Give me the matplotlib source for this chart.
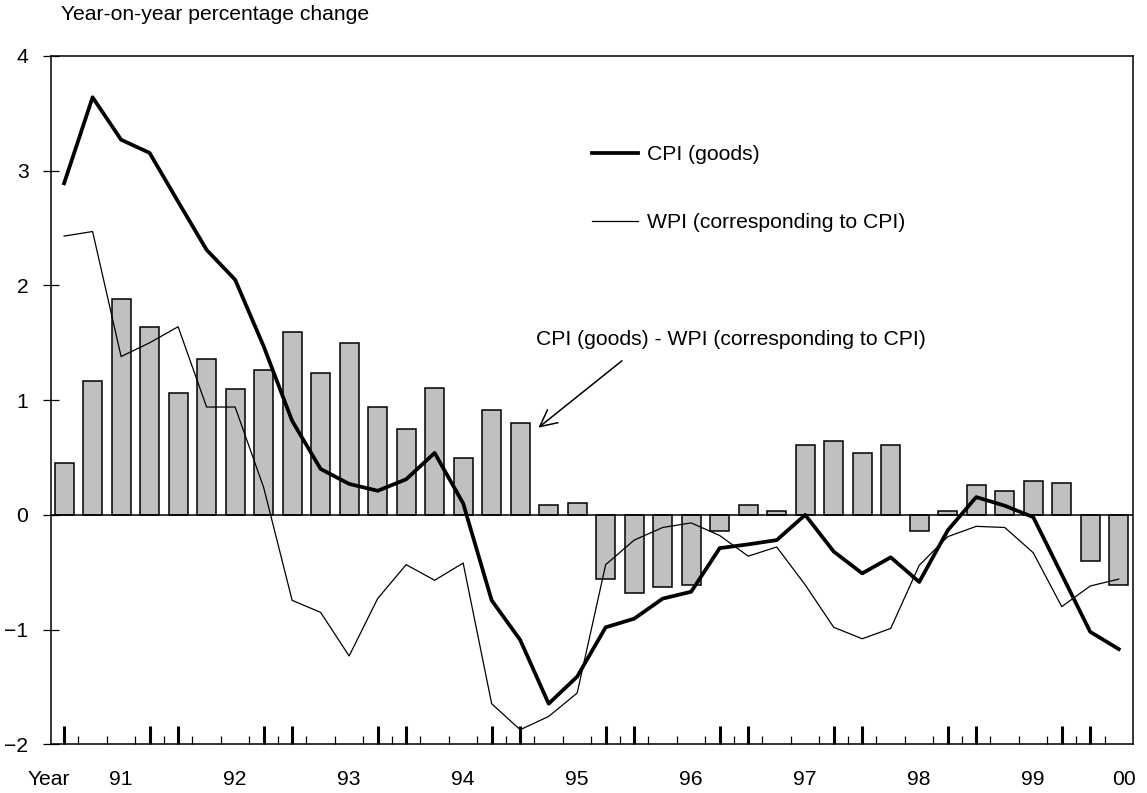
import numpy as np
import matplotlib.pyplot as plt

plt.rcParams['font.family'] = ['Liberation Sans', 'DejaVu Sans']

# quarterly series, 38 points
quarters = np.arange(38)

cpi_goods = [2.89, 3.64, 3.27, 3.155, 2.73, 2.31, 2.05, 1.47, 0.82, 0.40,
             0.27, 0.21, 0.31, 0.54, 0.10, -0.745, -1.09, -1.646, -1.41, -0.98,
             -0.905, -0.73, -0.67, -0.29, -0.257, -0.22, 0.0, -0.32, -0.51, -0.37,
             -0.585, -0.135, 0.155, 0.08, -0.02, -0.52, -1.02, -1.17]

wpi_cpi = [2.43, 2.47, 1.38, 1.50, 1.64, 0.94, 0.94, 0.24, -0.745, -0.85,
           -1.23, -0.73, -0.434, -0.57, -0.42, -1.646, -1.873, -1.757, -1.553, -0.434,
           -0.22, -0.11, -0.07, -0.18, -0.36, -0.28, -0.61, -0.98, -1.08, -0.99,
           -0.44, -0.19, -0.10, -0.11, -0.33, -0.80, -0.62, -0.56]

cpi_minus_wpi = [0.455, 1.17, 1.885, 1.64, 1.065, 1.36, 1.10, 1.26, 1.59, 1.24,
                 1.50, 0.94, 0.75, 1.11, 0.495, 0.91, 0.80, 0.09, 0.105, -0.56,
                 -0.68, -0.63, -0.61, -0.14, 0.085, 0.035, 0.61, 0.645, 0.54, 0.61,
                 -0.14, 0.035, 0.26, 0.21, 0.295, 0.28, -0.40, -0.61]

year_labels = ['91', '92', '93', '94', '95', '96', '97', '98', '99', '00']
year_pos = [2, 6, 10, 14, 18, 22, 26, 30, 34, 37.2]
thick_ticks = [0, 3, 4, 7, 8, 11, 12, 15, 16, 19, 20, 23, 24, 27, 28, 31, 32, 35, 36]

fs = 15.2

fig = plt.figure(figsize=(11.47, 7.93), dpi=100)
ax = fig.add_axes([0.0442, 0.0614, 0.9436, 0.868])

ax.bar(quarters, cpi_minus_wpi, width=0.67, color='#c0c0c0', edgecolor='black',
       linewidth=1.1, zorder=2)
ax.axhline(0, color='black', lw=1.1, zorder=3)
ax.plot(quarters, cpi_goods, color='black', lw=2.7, zorder=4, label='CPI (goods)')
ax.plot(quarters, wpi_cpi, color='black', lw=0.9, zorder=4,
        label='WPI (corresponding to CPI)')

ax.set_xlim(-0.47, 37.5)
ax.set_ylim(-2, 4)
ax.set_yticks(range(-2, 5))
ax.tick_params(axis='y', direction='inout', length=12, width=0.9, pad=10,
               labelsize=fs)

ax.set_xticks(thick_ticks)
ax.set_xticks(np.arange(0.5, 37, 1), minor=True)
ax.tick_params(axis='x', which='major', direction='in', length=13, width=2.2,
               labelbottom=False)
ax.tick_params(axis='x', which='minor', direction='in', length=5.8, width=0.9)

for s in ax.spines.values():
    s.set_linewidth(1.1)

# year labels under the axis
trans = ax.get_xaxis_transform()
for x, lab in zip(year_pos, year_labels):
    ax.text(x, -0.0504, lab, transform=trans, ha='center', va='center', fontsize=fs)
ax.text(-0.55, -0.0504, 'Year', transform=trans, ha='center', va='center', fontsize=fs)

fig.text(61 / 1147, 1 - 20 / 793, 'Year-on-year percentage change', fontsize=fs,
         ha='left', va='baseline')

ax.legend(loc='upper left', bbox_to_anchor=(591.7 / 1147, 1 - 145 / 793),
          bbox_transform=fig.transFigure, frameon=False, fontsize=fs,
          handlelength=2.2, handletextpad=0.4, labelspacing=2.33,
          borderpad=0, borderaxespad=0)

ax.text(16.56, 1.526, 'CPI (goods) - WPI (corresponding to CPI)', ha='left',
        va='center', fontsize=fs)
ax.annotate('', xy=(16.64, 0.76), xytext=(19.57, 1.343),
            arrowprops=dict(arrowstyle='->', lw=1.1, color='black',
                            mutation_scale=30, shrinkA=0, shrinkB=0))

fig.savefig('out.png', dpi=100)
